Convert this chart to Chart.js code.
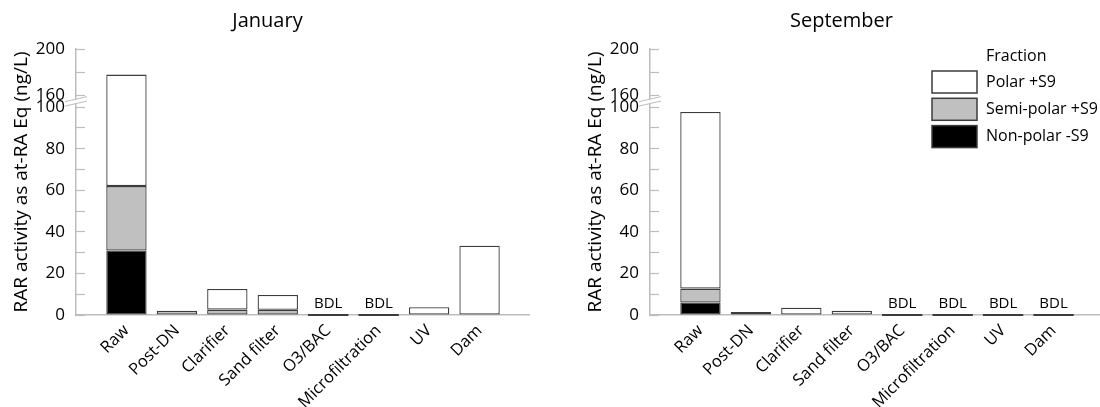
<!DOCTYPE html>
<html>
<head>
<meta charset="utf-8">
<script src="https://cdn.jsdelivr.net/npm/chart.js@4.4.0/dist/chart.umd.min.js"></script>
<style>
  html, body { margin: 0; padding: 0; background: #fff; width: 1100px; height: 407px; overflow: hidden; }
  .painel { position: absolute; top: 0; width: 550px; height: 407px; }
  #painelJan { left: 0; }
  #painelSep { left: 574px; }
</style>
</head>
<body>
<div class="painel" id="painelJan"><canvas id="graficoJan" width="550" height="407"></canvas></div>
<div class="painel" id="painelSep"><canvas id="graficoSep" width="550" height="407"></canvas></div>
<script>
// dados (ng/L), null = BDL
const etapas = ["Raw", "Post-DN", "Clarifier", "Sand filter", "O3/BAC", "Microfiltration", "UV", "Dam"];
const fracoes = ["Non-polar -S9", "Semi-polar +S9", "Polar +S9"];

const janNaoPolar = [31, 0, 0, 0, null, null, 0, 0];
const janSemiPolar = [31, 2.0, 2.6, 2.5, null, null, 0, 0];
const janPolar = [116, 0, 9.9, 7.1, null, null, 3.7, 33.3];

const setNaoPolar = [6, 0, 0, 0, null, null, null, null];
const setSemiPolar = [6.7, 1.4, 0, 0, null, null, null, null];
const setPolar = [85, 0, 3.5, 2.0, null, null, null, null];

const ticksY = [0, 10, 20, 30, 40, 50, 60, 70, 80, 90, 100, 160, 180, 200];
const rotulosY = [0, 20, 40, 60, 80, 100, 160, 200];

const fonte = "'Open Sans', sans-serif";
const corEixo = "#bdbdbd";
const corBorda = "#3c3c3c";
const coresFracao = ["#000000", "#c0c0c0", "#ffffff"];

// eixo y quebrado: 0-100 embaixo, 160-200 em cima
const quebraBaixo = 100, quebraAlto = 160, maxY = 200;
const trechoBaixo = 207.5, vao = 11.5, trechoAlto = 46.5;
const total = trechoBaixo + vao + trechoAlto;

function paraDecimal(v) {
    let p;
    if (v <= quebraBaixo) p = v / quebraBaixo * trechoBaixo;
    else if (v < quebraAlto) p = trechoBaixo + (v - quebraBaixo) / (quebraAlto - quebraBaixo) * vao;
    else p = trechoBaixo + vao + (v - quebraAlto) / (maxY - quebraAlto) * trechoAlto;
    return p / total;
}

class EscalaQuebrada extends Chart.LinearScale {
    buildTicks() {
        return ticksY.map(v => ({ value: v }));
    }
    getPixelForValue(value) {
        if (value === null || value === undefined || isNaN(value)) return NaN;
        return this.getPixelForDecimal(paraDecimal(value));
    }
}
EscalaQuebrada.id = "quebrada";
EscalaQuebrada.defaults = Chart.LinearScale.defaults;
Chart.register(EscalaQuebrada);

const pluginBDL = {
    id: "bdl",
    afterDatasetsDraw(chart) {
        const ctx = chart.ctx;
        const x = chart.scales.x, y = chart.scales.y;
        const y0 = y.getPixelForValue(0);
        const meia = (x.getPixelForValue(1) - x.getPixelForValue(0)) * 0.8 / 2;
        (chart.$bdl || []).forEach((abaixo, i) => {
            if (!abaixo) return;
            const cx = x.getPixelForValue(i + 1);
            ctx.save();
            ctx.strokeStyle = corBorda;
            ctx.lineWidth = 2;
            ctx.beginPath();
            ctx.moveTo(cx - meia, y0);
            ctx.lineTo(cx + meia, y0);
            ctx.stroke();
            ctx.fillStyle = "#000";
            ctx.font = "15px " + fonte;
            ctx.textAlign = "center";
            ctx.textBaseline = "alphabetic";
            ctx.fillText("BDL", cx, y0 - 7);
            ctx.restore();
        });
    }
};

const pluginQuebra = {
    id: "quebra",
    afterDraw(chart) {
        const ctx = chart.ctx;
        const y = chart.scales.y;
        const cx = chart.chartArea.left;
        const cy = (y.getPixelForValue(quebraBaixo) + y.getPixelForValue(quebraAlto)) / 2;
        const dx = 11, dy = 2.5, sep = 2.2;
        ctx.save();
        ctx.fillStyle = "#fff";
        ctx.beginPath();
        ctx.moveTo(cx - dx, cy + dy - sep);
        ctx.lineTo(cx + dx, cy - dy - sep);
        ctx.lineTo(cx + dx, cy - dy + sep);
        ctx.lineTo(cx - dx, cy + dy + sep);
        ctx.closePath();
        ctx.fill();
        ctx.strokeStyle = corEixo;
        ctx.lineWidth = 1;
        ctx.beginPath();
        ctx.moveTo(cx - dx, cy + dy - sep);
        ctx.lineTo(cx + dx, cy - dy - sep);
        ctx.moveTo(cx - dx, cy + dy + sep);
        ctx.lineTo(cx + dx, cy - dy + sep);
        ctx.stroke();
        ctx.restore();
    }
};

const pluginLegenda = {
    id: "legendaFracao",
    afterDraw(chart) {
        const ctx = chart.ctx;
        const x0 = chart.chartArea.left + 282;
        const xTexto = x0 + 54;
        ctx.save();
        ctx.font = "16px " + fonte;
        ctx.fillStyle = "#000";
        ctx.textBaseline = "middle";
        ctx.fillText("Fraction", xTexto, 56);
        const itens = chart.data.datasets.slice().reverse();
        itens.forEach((ds, k) => {
            const topo = 71 + k * 27.3;
            ctx.fillStyle = ds.backgroundColor;
            ctx.fillRect(x0, topo, 45, 22);
            ctx.strokeStyle = corBorda;
            ctx.lineWidth = 1.5;
            ctx.strokeRect(x0, topo, 45, 22);
            ctx.fillStyle = "#000";
            ctx.fillText(ds.label, xTexto, topo + 11);
        });
        ctx.restore();
    }
};

function montarGrafico(idCanvas, titulo, series, comLegenda) {
    const ctx = document.getElementById(idCanvas).getContext("2d");
    const plugins = [pluginBDL, pluginQuebra];
    if (comLegenda) plugins.push(pluginLegenda);
    const grafico = new Chart(ctx, {
        type: "bar",
        data: {
            labels: ["", ...etapas, ""],
            datasets: series.map((valores, k) => ({
                label: fracoes[k],
                // zero vira null para nao desenhar uma barra achatada
                data: [null, ...valores.map(v => v === 0 ? null : v), null],
                backgroundColor: coresFracao[k],
                borderColor: corBorda,
                borderWidth: 1.3,
                borderSkipped: false,
                barPercentage: 1,
                categoryPercentage: 0.8
            }))
        },
        options: {
            responsive: false,
            animation: false,
            layout: { padding: { left: 0, right: 15, top: 0, bottom: 0 } },
            plugins: {
                legend: { display: false },
                tooltip: { enabled: false },
                title: {
                    display: true,
                    text: titulo,
                    color: "#000",
                    font: { family: fonte, size: 20, weight: "normal" },
                    padding: { top: 9, bottom: 16 }
                }
            },
            scales: {
                x: {
                    type: "category",
                    stacked: true,
                    offset: false,
                    grid: { display: false, drawTicks: false },
                    border: { display: true, color: corEixo, width: 1.5 },
                    ticks: {
                        autoSkip: false,
                        maxRotation: 45,
                        minRotation: 45,
                        padding: 6,
                        color: "#000",
                        font: { family: fonte, size: 16.5 }
                    },
                    afterFit(escala) { escala.height = 92; }
                },
                y: {
                    type: "quebrada",
                    stacked: true,
                    min: 0,
                    max: maxY,
                    grid: {
                        drawOnChartArea: false,
                        drawTicks: true,
                        tickLength: -9,
                        tickColor: corEixo,
                        tickWidth: 1.2
                    },
                    border: { display: true, color: corEixo, width: 1.5 },
                    ticks: {
                        autoSkip: false,
                        padding: 20,
                        color: "#000",
                        font: { family: fonte, size: 17 },
                        callback: v => rotulosY.includes(v) ? String(v) : ""
                    },
                    title: {
                        display: true,
                        text: "RAR activity as at-RA Eq (ng/L)",
                        color: "#000",
                        font: { family: fonte, size: 19 },
                        padding: { top: 10, bottom: 0 }
                    },
                    afterFit(escala) { escala.width = 76; }
                }
            }
        },
        plugins: plugins
    });
    grafico.$bdl = etapas.map((_, i) => series.every(s => s[i] === null));
    grafico.draw();
    return grafico;
}

montarGrafico("graficoJan", "January", [janNaoPolar, janSemiPolar, janPolar], false);
montarGrafico("graficoSep", "September", [setNaoPolar, setSemiPolar, setPolar], true);
</script>
</body>
</html>
